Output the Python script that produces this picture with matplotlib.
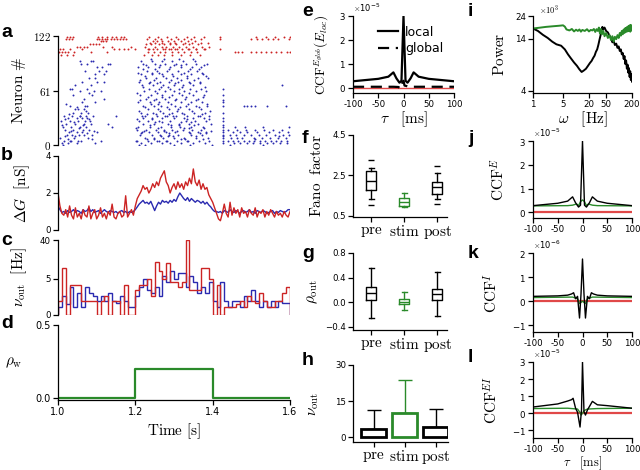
import numpy as np
import matplotlib
matplotlib.use('Agg')
import matplotlib.pyplot as plt
from matplotlib.ticker import ScalarFormatter, NullLocator, FixedLocator, FixedFormatter

plt.rcParams.update({
    'mathtext.fontset': 'cm',
    'font.family': ['DejaVu Sans'],
    'font.size': 6,
    'axes.linewidth': 0.9,
    'xtick.major.size': 3.5, 'ytick.major.size': 3.5,
    'xtick.major.width': 0.9, 'ytick.major.width': 0.9,
    'xtick.labelsize': 6.2, 'ytick.labelsize': 6.2,
    'xtick.major.pad': 1.5, 'ytick.major.pad': 1.5,
})

RED = '#cc2424'
BLUE = '#2a2ab0'
GREEN = '#2a8a2a'
PINK = '#e04848'

# ---------------- data ----------------
# (a) raster: neuron index -> spike times in ms after 1.0 s
raster_inh = {
    121: [22, 31, 40, 104, 113, 126, 139, 150, 162, 171, 236, 259, 281, 305, 333, 352, 378, 420, 512, 537, 561, 585, 599],
    119: [20, 28, 37, 100, 107, 114, 121, 128, 136, 144, 152, 161, 169, 176, 229, 252, 266, 291, 310, 326, 343, 370, 419, 500, 514, 528, 542, 556, 570, 598],
    116: [110, 117, 124, 245, 257, 270, 284, 300, 318, 336, 354],
    114: [239, 251, 268, 289, 302, 329, 347, 371, 389],
    113: [82, 90, 98, 106, 228, 240, 262, 275, 290, 306, 322, 340, 362],
    110: [50, 58, 66, 74, 116, 140, 188, 226, 250, 268, 280, 298, 314, 331, 348, 373, 390],
    108: [233, 246, 277, 293, 309, 336, 358, 377],
    107: [5, 14, 30, 62, 145, 157, 170, 181, 198, 235, 255, 271, 287, 303, 320, 338, 356, 380, 419],
    104: [3, 10, 18, 26, 42, 85, 128, 232, 247, 263, 278, 294, 311, 327, 344, 360, 457, 466, 476, 500, 513, 526, 539, 552, 565, 578, 591, 600],
    101: [8, 22, 40, 222, 242, 258, 274, 296, 318, 341, 367],
}
raster_exc = {
    0: [12, 210, 226, 301, 342, 398, 445, 530],
    2: [10, 25, 48, 95, 215, 240, 268, 290, 318, 350, 380, 428, 455, 470, 488, 505, 522, 540, 556, 575, 593],
    4: [34, 51, 203, 262, 279, 335, 391],
    5: [15, 30, 60, 110, 205, 232, 256, 281, 309, 333, 365, 428, 440, 452, 466, 480, 494, 508, 522, 536, 550, 564, 578, 592],
    7: [27, 88, 231, 249, 317, 329, 374, 510],
    8: [5, 42, 78, 225, 249, 271, 300, 327, 356, 388, 428, 447, 462, 476, 506, 527, 548, 570, 590],
    10: [17, 45, 266, 284, 297, 358, 428, 571],
    11: [22, 35, 55, 68, 88, 212, 244, 263, 286, 311, 345, 372, 428, 444, 460, 480, 500, 520, 539, 560, 582, 597],
    13: [75, 214, 287, 341, 366, 384],
    14: [28, 50, 62, 100, 218, 236, 259, 279, 303, 338, 361, 383, 428, 452, 470, 490, 515, 545, 572, 596],
    16: [33, 92, 223, 274, 308, 395],
    17: [18, 40, 65, 80, 205, 228, 254, 275, 296, 322, 347, 369, 428, 440, 463, 486, 510, 533, 557, 580],
    19: [55, 201, 258, 326, 338, 377],
    20: [12, 33, 58, 72, 140, 208, 238, 266, 292, 316, 343, 376, 428, 458, 484, 530, 598],
    22: [10, 64, 237, 291, 312, 353, 428],
    24: [20, 45, 66, 85, 130, 221, 247, 284, 313, 339, 362, 395],
    26: [41, 252, 268, 319, 345],
    27: [8, 30, 52, 70, 83, 210, 233, 260, 289, 330, 355, 382, 428],
    29: [19, 81, 205, 243, 333, 390],
    30: [25, 48, 61, 76, 220, 242, 270, 299, 325, 350, 378, 428],
    32: [57, 217, 276, 298, 361],
    33: [15, 37, 56, 72, 90, 150, 226, 256, 281, 306, 334, 367, 391],
    35: [28, 231, 253, 287, 325, 372],
    36: [40, 60, 78, 214, 245, 272, 296, 320, 352, 381, 428],
    38: [72, 209, 265, 309, 347, 393],
    40: [45, 52, 66, 232, 258, 288, 311, 340, 370],
    42: [48, 226, 281, 316, 364],
    44: [30, 69, 74, 219, 248, 266, 302, 330, 357, 386, 428, 480, 490, 500, 510, 540, 590],
    46: [21, 241, 259, 292, 337, 385],
    48: [62, 96, 206, 237, 262, 285, 318, 344, 372, 428],
    50: [213, 248, 303, 358, 428],
    52: [68, 118, 228, 254, 278, 305, 329, 361],
    54: [233, 269, 288, 331, 374],
    56: [38, 88, 212, 240, 268, 296, 320, 348, 378, 428],
    58: [81, 204, 257, 312, 339],
    60: [58, 92, 110, 222, 250, 276, 301, 327, 356, 384],
    63: [30, 37, 75, 235, 260, 290, 314, 342, 370, 428],
    65: [219, 266, 284, 321, 380],
    67: [45, 85, 217, 246, 272, 299, 323, 350, 580],
    69: [236, 255, 302, 341, 368],
    71: [62, 100, 120, 209, 238, 264, 287, 311, 339, 367],
    73: [211, 249, 292, 318, 353],
    75: [80, 96, 227, 253, 280, 307, 333, 362, 389],
    77: [224, 271, 297, 334, 382],
    79: [95, 118, 214, 243, 270, 294, 319, 345, 374],
    81: [208, 244, 262, 327, 372],
    83: [70, 106, 124, 230, 256, 283, 310, 336, 360],
    85: [219, 251, 286, 341, 365],
    87: [100, 115, 207, 233, 262, 289, 317, 346, 371],
    89: [228, 263, 299, 318, 378],
    91: [60, 76, 130, 134, 220, 251, 278, 305, 330, 358, 386],
    94: [57, 86, 90, 215, 242, 270, 295, 324, 355],
    96: [240, 273, 312, 349],
}

# (b) conductance traces, 5 ms sampling from 1.0 to 1.6 s
G_blue = [1.3, 1.1, 0.95, 1.0, 0.9, 1.05, 0.95, 1.0, 1.1, 0.95,
          1.05, 1.0, 0.9, 1.1, 1.0, 1.05, 1.2, 1.0, 1.1, 0.95,
          1.0, 1.05, 0.9, 1.0, 1.1, 1.0, 0.95, 1.05, 1.0, 0.95,
          1.0, 0.9, 1.0, 1.05, 0.95, 1.0, 0.9, 1.0, 0.95, 1.0,
          1.1, 1.25, 1.4, 1.5, 1.6, 1.45, 1.5, 1.4, 1.55, 1.3,
          1.05, 1.3, 1.5, 1.4, 1.6, 1.5, 1.55, 1.45, 1.6, 1.5,
          1.65, 1.55, 1.8, 2.0, 1.85, 1.7, 1.6, 1.75, 1.55, 1.7,
          1.6, 1.5, 1.6, 1.55, 1.45, 1.55, 1.4, 1.5, 1.35, 1.25,
          1.1, 1.0, 1.0, 0.95, 1.0, 0.9, 1.05, 1.0, 0.95, 1.1,
          1.0, 0.95, 1.05, 1.0, 0.9, 1.0, 1.05, 0.95, 1.0, 1.1,
          0.95, 1.0, 0.9, 1.05, 1.0, 0.95, 1.05, 1.0, 0.9, 0.95,
          1.0, 1.05, 0.9, 1.0, 0.95, 1.05, 1.0, 0.95, 1.0, 1.1, 1.1]
G_red = [2.0, 1.3, 0.9, 0.8, 1.1, 0.7, 1.3, 0.8, 0.6, 1.2,
         0.7, 0.9, 0.6, 1.1, 0.8, 0.7, 1.3, 0.6, 0.9, 1.1,
         0.6, 0.8, 1.2, 0.7, 0.9, 0.6, 1.0, 0.8, 1.4, 0.7,
         0.6, 0.9, 1.0, 0.7, 0.8, 1.85, 0.7, 0.9, 1.1, 0.8,
         1.3, 1.7, 1.9, 2.1, 2.4, 2.2, 2.3, 2.0, 2.2, 2.5,
         2.3, 2.6, 2.4, 2.8, 3.0, 3.2, 2.6, 2.4, 2.0, 2.3,
         2.5, 2.2, 2.6, 2.3, 2.5, 2.2, 2.6, 2.4, 2.8, 2.5,
         3.3, 2.6, 2.4, 2.7, 2.2, 2.5, 2.2, 2.3, 1.9, 1.7,
         1.5, 1.2, 0.9, 0.6, 0.5, 0.9, 1.4, 0.9, 0.7, 1.5,
         0.8, 1.2, 0.9, 1.1, 0.7, 1.2, 0.9, 1.0, 0.7, 1.1,
         0.9, 0.8, 1.2, 0.7, 1.0, 0.9, 1.1, 0.7, 1.0, 0.8,
         1.1, 0.9, 0.7, 1.0, 0.8, 0.9, 0.7, 1.0, 0.8, 0.7, 1.0]

# (c) output rate histograms, 10 ms bins
rate_red = [1, 9, 0, 3.5, 3.5, 3.5, 1, 1, 1, 1,
            0, 1, 1.6, 0, 1, 1, 0, 3.5, 0, 0,
            2.5, 3.5, 3.5, 5, 1.5, 13, 8, 5, 12, 4,
            4, 3, 4, 40, 2.5, 2.5, 2.5, 9, 9, 5,
            0, 3.5, 0, 0.5, 0.5, 0.5, 0.7, 1, 0.5, 1.5,
            1, 0.8, 2, 1, 0.5, 0.5, 1, 1, 2, 3]
rate_blue = [0.5, 1.5, 0.7, 3, 0.5, 2, 0.5, 3, 2, 1.5,
             1, 1.5, 1, 2, 1, 0.8, 1.5, 1, 0.5, 0.5,
             1.5, 3, 5, 2.5, 2, 3, 1.5, 6, 4, 8,
             5, 7, 7, 3, 6, 4, 2, 3, 2, 4,
             1, 0.5, 4, 1, 0.5, 1, 1, 0.5, 1.5, 1,
             2.5, 1, 0.5, 1, 0.5, 1, 0.5, 1, 0.8, 0.8]

# (d) input correlation protocol
rho_t = [1.0, 1.2, 1.2, 1.4, 1.4, 1.6]
rho_w = [0.0, 0.0, 0.2, 0.2, 0.0, 0.0]

# (e) CCF of global vs local (x1e-5)
tau_local = [-100, -50, -30, -20, -14, -8, -4, 0, 4, 8, 14, 20, 30, 50, 100]
ccf_local = [0.28, 0.38, 0.47, 0.65, 0.4, 0.22, 0.3, 3.0, 0.3, 0.22, 0.4, 0.65, 0.47, 0.38, 0.28]
tau_global = [-100, -50, -20, -10, -6, -2, 0, 2, 6, 10, 20, 50, 100]
ccf_global = [0.05, 0.05, 0.05, 0.04, -0.03, 0.25, 0.3, 0.1, 0.08, 0.05, 0.05, 0.05, 0.05]
tau_zero = [-100, 100]
ccf_zero = [0.0, 0.0]

# (f,g,h) pre / stim / post statistics
conds = ['pre', 'stim', 'post']
fano_q1 = [1.79, 1.0, 1.61]
fano_med = [2.23, 1.2, 1.91]
fano_q3 = [2.73, 1.4, 2.2]
fano_lo = [1.34, 0.93, 1.34]
fano_hi = [2.86, 1.62, 2.6]
fano_fliers = [[3.27, 1.02], [], [2.95, 1.07]]
rho_q1 = [0.04, -0.03, 0.03]
rho_med = [0.144, 0.01, 0.13]
rho_q3 = [0.24, 0.06, 0.22]
rho_lo = [-0.26, -0.13, -0.22]
rho_hi = [0.55, 0.17, 0.49]
nu_mean = [3.5, 10.2, 4.2]
nu_err = [7.6, 13.5, 7.7]

# (i) power spectra (x1e3)
freq_black = [1, 1.3, 1.7, 2.2, 2.8, 3.5, 4.5, 5.5, 6.5, 7.5,
              9, 10.5, 12, 13.5, 15, 17, 19, 21, 23, 25,
              27, 29, 31, 33, 35, 37, 39, 41, 43, 46,
              50, 55, 60, 65, 70, 75, 80, 86, 92, 98,
              104, 110, 116, 122, 128, 134, 140, 146, 152, 158,
              164, 170, 176, 182, 188, 194, 200]
power_black = [17.8, 16.8, 15.3, 14.2, 13.0, 12.2, 11.8, 10.8, 9.6, 8.8,
               7.9, 7.3, 6.7, 6.3, 6.5, 6.8, 7.3, 7.8, 8.2, 8.8,
               9.3, 10.2, 10.8, 12.0, 13.5, 15.0, 17.0, 18.5, 17.5, 18.2,
               16.8, 16.2, 15.0, 14.2, 12.8, 13.2, 12.0, 12.4, 11.2, 11.6,
               10.4, 10.8, 9.6, 9.9, 8.6, 9.2, 7.6, 8.3, 6.8, 7.5,
               6.2, 6.9, 5.6, 6.4, 5.2, 6.0, 5.0]
freq_green = [1, 1.5, 2, 3, 4, 5, 5.5, 6, 7, 8,
              9, 10, 11, 12, 13, 14, 16, 18, 20, 22,
              24, 26, 28, 30, 32, 34, 36, 38, 40, 43,
              46, 50, 55, 60, 65, 70, 75, 80, 86, 92,
              98, 104, 110, 116, 122, 128, 134, 140, 146, 152,
              158, 164, 170, 176, 182, 188, 194, 200]
power_green = [17.8, 18.2, 18.5, 18.8, 19.0, 19.2, 18.6, 17.4, 17.0, 17.6,
               16.6, 17.3, 16.8, 17.4, 16.5, 17.2, 16.8, 17.5, 16.6, 17.2,
               17.0, 17.6, 16.4, 17.5, 16.8, 18.2, 15.8, 17.6, 15.5, 16.8,
               14.8, 16.0, 14.2, 15.2, 13.5, 14.8, 13.0, 14.6, 13.8, 15.2,
               14.2, 16.0, 15.0, 16.8, 15.5, 17.4, 16.0, 18.0, 16.4, 18.4,
               16.6, 18.8, 16.8, 19.2, 16.5, 19.4, 17.0, 18.0]

# (j) CCF^E (x1e-5)
tau_jg = [-100, -30, -20, -12, -8, -4, 0, 4, 8, 12, 20, 30, 100]
ccfE_green = [0.27, 0.28, 0.3, 0.35, 0.28, 0.45, 0.52, 0.45, 0.28, 0.35, 0.3, 0.28, 0.27]
# (k) CCF^I (x1e-6)
tau_k = [-100, -50, -30, -22, -18, -14, -10, -6, -3, 0, 3, 6, 10, 14, 18, 22, 30, 50, 100]
ccfI_black = [0.2, 0.22, 0.25, 0.3, 0.35, 0.1, 0.2, -0.7, 0.3, 1.75, 0.3, -0.7, 0.2, 0.1, 0.35, 0.3, 0.25, 0.22, 0.2]
tau_kg = [-100, -20, -10, -6, -3, 0, 3, 6, 10, 20, 100]
ccfI_green = [0.15, 0.17, 0.1, -0.1, -0.05, 0.0, -0.05, -0.1, 0.1, 0.17, 0.15]
# (l) CCF^EI (x1e-5)
tau_l = [-100, -50, -30, -22, -19, -14, -10, -5, -2, 0, 3, 6, 10, 15, 20, 30, 50, 100]
ccfEI_black = [0.37, 0.55, 0.72, 0.8, 0.88, 0.3, 0.06, -0.8, 0.2, 3.0, 0.1, -0.1, 0.2, 0.45, 0.7, 0.5, 0.45, 0.3]
tau_lg = [-100, -30, -10, -5, -3, 0, 3, 6, 10, 30, 100]
ccfEI_green = [0.28, 0.3, 0.25, 0.05, -0.1, 0.0, 0.15, 0.2, 0.25, 0.28, 0.3]

# ---------------- figure ----------------
W, H = 640, 470
fig = plt.figure(figsize=(6.4, 4.7), dpi=100)


def ax_px(l, t, r, b):
    return fig.add_axes([l / W, 1 - b / H, (r - l) / W, (b - t) / H])


def style(ax, bottom=True):
    ax.spines['top'].set_visible(False)
    ax.spines['right'].set_visible(False)
    ax.tick_params(direction='out')
    if not bottom:
        ax.spines['bottom'].set_visible(False)
        ax.set_xticks([])


def letter(x, y, s):
    fig.text(x / W, 1 - y / H, s, fontsize=14, fontweight='bold',
             family=['Liberation Sans', 'DejaVu Sans'], va='baseline', ha='left')


LBL = 11

# a
ax = ax_px(58, 36, 290, 145)
style(ax, bottom=False)
for n, ts in raster_exc.items():
    ax.plot(1 + np.array(ts) / 1000.0, [n] * len(ts), 'o', ms=1.4, color=BLUE, mew=0)
for n, ts in raster_inh.items():
    ax.plot(1 + np.array(ts) / 1000.0, [n] * len(ts), 'o', ms=1.4, color=RED, mew=0)
ax.set_xlim(1.0, 1.6)
ax.set_ylim(0, 122)
ax.yaxis.set_major_locator(FixedLocator([0, 61, 122]))
ax.yaxis.set_major_formatter(FixedFormatter([r'$0$', r'$61$', r'$122$']))
ax.tick_params(axis='y', labelsize=8)
ax.set_ylabel(r'$\mathrm{Neuron\ \#}$', fontsize=LBL, labelpad=4)

# b
ax = ax_px(58, 156, 290, 230)
style(ax, bottom=False)
tG = np.linspace(1.0, 1.6, len(G_blue))
ax.plot(tG, G_blue, color=BLUE, lw=1.0)
ax.plot(tG, G_red, color=RED, lw=1.0)
ax.set_xlim(1.0, 1.6)
ax.set_ylim(0, 4)
ax.set_yticks([0, 2, 4])
ax.set_ylabel(r'$\Delta G\ \ [\mathrm{nS}]$', fontsize=LBL, labelpad=10)

# c
ax = ax_px(58, 240, 290, 315)
style(ax, bottom=False)
ax.set_yscale('function', functions=(lambda v: np.log1p(np.maximum(v, 0)), lambda v: np.expm1(v)))
edges = np.linspace(1.0, 1.6, len(rate_red) + 1)
ax.stairs(rate_blue, edges, color=BLUE, lw=1.0, baseline=0)
ax.stairs(rate_red, edges, color=RED, lw=1.0, baseline=0)
ax.set_xlim(1.0, 1.6)
ax.set_ylim(0, 40)
ax.yaxis.set_major_locator(FixedLocator([0, 5, 40]))
ax.yaxis.set_major_formatter(FixedFormatter(['0', '5', '40']))
ax.yaxis.set_minor_locator(NullLocator())
ax.set_ylabel(r'$\nu_{\mathrm{out}}\ \ [\mathrm{Hz}]$', fontsize=LBL, labelpad=8)

# d
ax = ax_px(58, 325, 290, 400)
style(ax)
ax.plot(rho_t, rho_w, color=GREEN, lw=1.6)
ax.set_xlim(1.0, 1.6)
ax.set_ylim(-0.014, 0.5)
ax.set_yticks([0.0, 0.5])
ax.set_xticks([1.0, 1.2, 1.4, 1.6])
ax.tick_params(labelsize=7)
ax.set_xlabel(r'$\mathrm{Time\ [s]}$', fontsize=LBL, labelpad=3)
ax.set_ylabel(r'$\rho_{\mathrm{w}}$', fontsize=LBL, rotation=0, labelpad=16, va='center')


def sci(ax):
    f = ScalarFormatter(useMathText=True)
    f.set_powerlimits((0, 0))
    ax.yaxis.set_major_formatter(f)
    ax.yaxis.get_offset_text().set_fontsize(6)


# e
ax = ax_px(353, 16, 454, 93)
style(ax)
ax.plot(tau_zero, np.array(ccf_zero) * 1e-5, color=PINK, lw=1.0)
ax.plot(tau_local, np.array(ccf_local) * 1e-5, color='black', lw=1.6, label='local')
ax.plot(tau_global, np.array(ccf_global) * 1e-5, color='black', lw=1.6, ls=(0, (5, 3)), label='global')
ax.set_xlim(-100, 100)
ax.set_ylim(-0.21e-5, 3e-5)
ax.set_xticks([-100, -50, 0, 50, 100])
ax.set_xticklabels(['-100', '-50', '0', '50', '100'])
ax.set_yticks([0, 1e-5, 2e-5, 3e-5])
sci(ax)
ax.set_ylabel(r'$\mathrm{CCF}^{E_{glob}}(E_{loc})$', fontsize=9.5, labelpad=6)
ax.set_xlabel(r'$\tau\ \ \ [\mathrm{ms}]$', fontsize=LBL, labelpad=0)
ax.legend(loc='upper right', bbox_to_anchor=(0.97, 0.97), frameon=False, fontsize=9,
          handlelength=1.6, labelspacing=0.25, handletextpad=0.6, borderpad=0.1)


def boxes(ax, q1, med, q3, lo, hi, fliers):
    stats = []
    for i in range(3):
        stats.append(dict(q1=q1[i], med=med[i], q3=q3[i], whislo=lo[i], whishi=hi[i],
                          fliers=fliers[i] if fliers else []))
    for i, st in enumerate(stats):
        c = GREEN if i == 1 else 'black'
        ax.bxp([st], positions=[i + 1], widths=0.32, capwidths=0.15,
               boxprops=dict(color=c, lw=1.0), whiskerprops=dict(color=c, lw=1.0),
               capprops=dict(color=c, lw=1.0), medianprops=dict(color=c, lw=1.0),
               flierprops=dict(marker='_', markeredgecolor=c, markersize=5, mew=1.0),
               showfliers=True, manage_ticks=False)
    ax.set_xticks([1, 2, 3])
    ax.set_xticklabels([r'$\mathrm{%s}$' % c for c in conds], fontsize=11)


# f
ax = ax_px(353, 135, 447, 217)
style(ax)
boxes(ax, fano_q1, fano_med, fano_q3, fano_lo, fano_hi, fano_fliers)
ax.set_xlim(0.45, 3.3)
ax.set_ylim(0.45, 4.5)
ax.set_yticks([0.5, 2.5, 4.5])
ax.set_ylabel(r'$\mathrm{Fano\ \ factor}$', fontsize=LBL, labelpad=6)

# g
ax = ax_px(353, 253, 447, 330)
style(ax)
boxes(ax, rho_q1, rho_med, rho_q3, rho_lo, rho_hi, None)
ax.set_xlim(0.45, 3.3)
ax.set_ylim(-0.45, 0.8)
ax.set_yticks([-0.4, 0.0, 0.4, 0.8])
ax.set_ylabel(r'$\rho_{\mathrm{out}}$', fontsize=LBL, labelpad=4)

# h
ax = ax_px(353, 365, 448, 442)
style(ax)
xs = [1, 2, 3]
cols = ['black', GREEN, 'black']
ax.bar(xs, nu_mean, width=0.8, facecolor='white', edgecolor=cols, lw=2.0, zorder=2)
for i in range(3):
    ax.errorbar([xs[i]], [nu_mean[i]], yerr=[[0], [nu_err[i]]], fmt='none', ecolor=cols[i],
                elinewidth=1.0, capsize=5, capthick=1.0, zorder=1)
ax.set_xlim(0.33, 3.4)
ax.set_ylim(-2, 30)
ax.set_yticks([0, 15, 30])
ax.set_xticks([1, 2, 3])
ax.set_xticklabels([r'$\mathrm{%s}$' % c for c in conds], fontsize=11)
ax.set_ylabel(r'$\nu_{\mathrm{out}}$', fontsize=LBL, labelpad=10)

# i
ax = ax_px(533, 16, 632, 93)
style(ax)
ax.plot(freq_black, power_black, color='black', lw=1.4)
ax.plot(freq_green, power_green, color=GREEN, lw=1.4)
ax.set_xscale('log')
ax.set_yscale('log')
ax.set_xlim(1, 200)
ax.set_ylim(3.81, 24)
ax.xaxis.set_major_locator(FixedLocator([1, 5, 20, 50, 200]))
ax.xaxis.set_major_formatter(FixedFormatter(['1', '5', '20', '50', '200']))
ax.xaxis.set_minor_locator(NullLocator())
ax.yaxis.set_major_locator(FixedLocator([4, 14, 24]))
ax.yaxis.set_major_formatter(FixedFormatter(['4', '14', '24']))
ax.yaxis.set_minor_locator(NullLocator())
ax.text(0.06, 1.0, r'$\times10^{3}$', transform=ax.transAxes, fontsize=6, va='bottom', ha='left')
ax.set_ylabel(r'$\mathrm{Power}$', fontsize=LBL, labelpad=6)
ax.set_xlabel(r'$\omega\ \ \ [\mathrm{Hz}]$', fontsize=LBL, labelpad=0)


def ccf_panel(ax, tb, yb, tg, yg, scale, ylim, yticks, ylabel):
    style(ax)
    ax.plot(tau_zero, np.array(ccf_zero) * scale, color=PINK, lw=1.6)
    ax.plot(tg, np.array(yg) * scale, color=GREEN, lw=1.0)
    ax.plot(tb, np.array(yb) * scale, color='black', lw=1.0)
    ax.set_xlim(-100, 100)
    ax.set_ylim(ylim[0] * scale, ylim[1] * scale)
    ax.set_yticks([v * scale for v in yticks])
    ax.set_xticks([-100, -50, 0, 50, 100])
    ax.set_xticklabels(['-100', '-50', '0', '50', '100'])
    sci(ax)
    ax.set_ylabel(ylabel, fontsize=LBL, labelpad=8)


ax = ax_px(533, 141, 632, 218)
ccf_panel(ax, tau_local, ccf_local, tau_jg, ccfE_green, 1e-5, (-0.24, 3.0), [0, 1, 2, 3], r'$\mathrm{CCF}^{E}$')
ax = ax_px(533, 253, 632, 332)
ccf_panel(ax, tau_k, ccfI_black, tau_kg, ccfI_green, 1e-6, (-1.28, 2.0), [-1, 0, 1, 2], r'$\mathrm{CCF}^{I}$')
ax = ax_px(533, 362, 632, 438)
ccf_panel(ax, tau_l, ccfEI_black, tau_lg, ccfEI_green, 1e-5, (-1.44, 3.0), [-1, 0, 1, 2, 3], r'$\mathrm{CCF}^{EI}$')
ax.set_xlabel(r'$\tau\ \ \ [\mathrm{ms}]$', fontsize=9, labelpad=0.5)

# panel letters
letter(1, 37, 'a')
letter(1, 160, 'b')
letter(1, 245, 'c')
letter(1, 328, 'd')
letter(302, 16, 'e')
letter(302, 143, 'f')
letter(302, 258, 'g')
letter(302, 365, 'h')
letter(468, 16, 'i')
letter(468, 143, 'j')
letter(468, 258, 'k')
letter(468, 362, 'l')

fig.savefig('out.png', dpi=100)
